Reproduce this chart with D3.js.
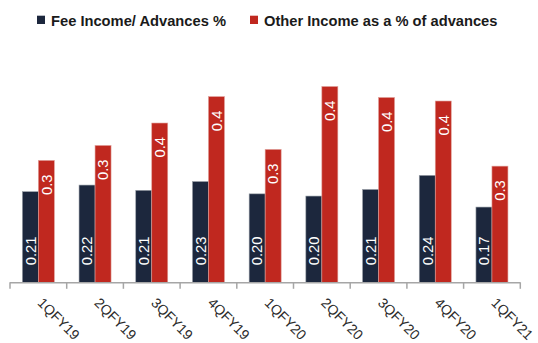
<!DOCTYPE html>
<html>
<head>
<meta charset="utf-8">
<script src="https://cdn.jsdelivr.net/npm/d3@7"></script>
<style>
  html, body { margin: 0; padding: 0; background: #fff; }
  svg { display: block; }
</style>
</head>
<body>
<svg id="chart" width="538" height="343"></svg>
<script>
// Quarterly income ratios
const quarters = ["1QFY19", "2QFY19", "3QFY19", "4QFY19", "1QFY20", "2QFY20", "3QFY20", "4QFY20", "1QFY21"];
const feeIncome = [0.206, 0.221, 0.209, 0.229, 0.201, 0.196, 0.211, 0.243, 0.171];
const otherIncome = [0.277, 0.311, 0.362, 0.422, 0.302, 0.445, 0.420, 0.412, 0.264];
const seriesNames = ["Fee Income/ Advances %", "Other Income as a % of advances"];
const seriesColors = ["#1c273d", "#c0281f"];

const font = "'Liberation Sans', Arial, sans-serif";
const svg = d3.select("#chart");

const x0 = 10, x1 = 520.3, yBase = 282.3;
const x = d3.scaleBand().domain(quarters).range([x0, x1]).paddingInner(0).paddingOuter(0);
const y = d3.scaleLinear().domain([0, 0.5]).range([yBase, yBase - 220]);
const barW = 16;

// Legend
const legend = svg.append("g").attr("font-family", font).attr("font-weight", "bold").attr("font-size", 14.7).attr("fill", "#1a1a1a");
const legendX = [37, 250];
seriesNames.forEach((name, i) => {
  legend.append("rect").attr("x", legendX[i]).attr("y", 15.7).attr("width", 8).attr("height", 8.3).attr("fill", seriesColors[i]);
  legend.append("text").attr("x", legendX[i] + 14).attr("y", 25.5).text(name);
});

// Bars
const groups = svg.append("g").selectAll("g").data(quarters).join("g");

groups.append("rect")
  .attr("x", d => x(d) + x.bandwidth() / 2 - barW)
  .attr("y", (d, i) => y(feeIncome[i]))
  .attr("width", barW)
  .attr("height", (d, i) => yBase - y(feeIncome[i]))
  .attr("fill", seriesColors[0])
  .attr("stroke", "#9aa0a8").attr("stroke-width", 0.6);

groups.append("rect")
  .attr("x", d => x(d) + x.bandwidth() / 2)
  .attr("y", (d, i) => y(otherIncome[i]))
  .attr("width", barW)
  .attr("height", (d, i) => yBase - y(otherIncome[i]))
  .attr("fill", seriesColors[1])
  .attr("stroke", "#e0a09a").attr("stroke-width", 0.6);

// Value labels, rotated inside the bars
const fmt2 = d3.format(".2f"), fmt1 = d3.format(".1f");
groups.append("text")
  .attr("transform", d => `translate(${x(d) + x.bandwidth() / 2 - barW / 2 + 5.3},${yBase - 17}) rotate(-90)`)
  .attr("text-anchor", "start")
  .attr("font-family", font).attr("font-size", 14.8).attr("fill", "#fff")
  .text((d, i) => fmt2(feeIncome[i]));

groups.append("text")
  .attr("transform", (d, i) => `translate(${x(d) + x.bandwidth() / 2 + barW / 2 + 5.3},${y(otherIncome[i]) + 14}) rotate(-90)`)
  .attr("text-anchor", "end")
  .attr("font-family", font).attr("font-size", 14.8).attr("fill", "#fff")
  .text((d, i) => fmt1(otherIncome[i]));

// Category axis
const axis = svg.append("g");
axis.append("line").attr("x1", x0).attr("x2", x1).attr("y1", yBase + 0.5).attr("y2", yBase + 0.5)
  .attr("stroke", "#a6a6a6").attr("stroke-width", 1.5);
const tickXs = quarters.map(q => x(q)).concat([x1]);
axis.selectAll("line.tick").data(tickXs).join("line").attr("class", "tick")
  .attr("x1", d => d).attr("x2", d => d).attr("y1", yBase).attr("y2", yBase + 6.5)
  .attr("stroke", "#a6a6a6").attr("stroke-width", 1.5);

axis.selectAll("text").data(quarters).join("text")
  .attr("transform", d => `translate(${x(d) + x.bandwidth() / 2 - 1.5},${yBase + 21.5}) rotate(45)`)
  .attr("text-anchor", "start")
  .attr("font-family", font).attr("font-size", 14).attr("fill", "#2b2b2b")
  .text(d => d);
</script>
</body>
</html>
